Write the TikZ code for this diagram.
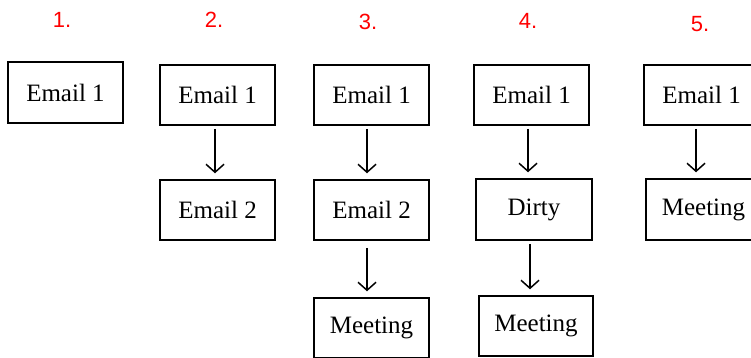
\documentclass[tikz,border=0pt]{standalone}
\usepackage{fontspec}
\setmainfont{Liberation Serif}
\newfontfamily\labelfont{Liberation Sans}
\usetikzlibrary{arrows.meta}
\tikzset{
  box/.style={draw=black, line width=1.5pt, minimum width=115pt, minimum height=60pt,
    inner sep=0pt, font=\fontsize{25}{29}\selectfont},
  steplabel/.style={text=red, font=\labelfont\fontsize{22}{25}\selectfont, inner sep=0pt},
  flow/.style={line width=1.5pt, -{Straight Barb[length=8pt,width=18pt,line width=1.5pt]},
    shorten <=3pt, shorten >=6pt}
}
\begin{document}
\begin{tikzpicture}[x=1pt,y=-1pt]
  \useasboundingbox (0,0) rectangle (751,357);
  \clip (0,0) rectangle (751,357);
  \fill[white] (0,0) rectangle (751,357);

  % column headings
  \node[steplabel] (l1) at (62,20) {1.};
  \node[steplabel] (l2) at (214,20) {2.};
  \node[steplabel] (l3) at (368,21.5) {3.};
  \node[steplabel] (l4) at (528,21) {4.};
  \node[steplabel] (l5) at (700,24.5) {5.};

  % 1.
  \node[box, minimum height=61pt] (a1) at (65.5,92.5) {Email 1};

  % 2.
  \node[box] (b1) at (217.5,95) {Email 1};
  \node[box] (b2) at (217.5,210) {Email 2};
  \draw[flow] ([xshift=-2.5pt]b1.south) -- ([xshift=-2.5pt]b1.south |- b2.north);

  % 3.
  \node[box] (c1) at (371.5,95) {Email 1};
  \node[box] (c2) at (371.5,210) {Email 2};
  \node[box] (c3) at (371.5,328) {Meeting};
  \draw[flow] ([xshift=-4.5pt]c1.south) -- ([xshift=-4.5pt]c1.south |- c2.north);
  \draw[flow, shorten <=7pt] ([xshift=-4.5pt]c2.south) -- ([xshift=-4.5pt]c2.south |- c3.north);

  % 4.
  \node[box] (d1) at (531.5,95) {Email 1};
  \node[box, minimum width=116pt, minimum height=61pt] (d2) at (534,209.5) {Dirty};
  \node[box, minimum width=114pt] (d3) at (536,326) {Meeting};
  \draw[flow] ([xshift=-3.5pt]d1.south) -- ([xshift=-3.5pt]d1.south |- d2.north);
  \draw[flow] ([xshift=-4pt]d2.south) -- ([xshift=-4pt]d2.south |- d3.north);

  % 5.
  \node[box] (e1) at (701.5,95) {Email 1};
  \node[box, minimum height=61pt] (e2) at (703.5,209.5) {Meeting};
  \draw[flow] ([xshift=-5.5pt]e1.south) -- ([xshift=-5.5pt]e1.south |- e2.north);
\end{tikzpicture}
\end{document}
